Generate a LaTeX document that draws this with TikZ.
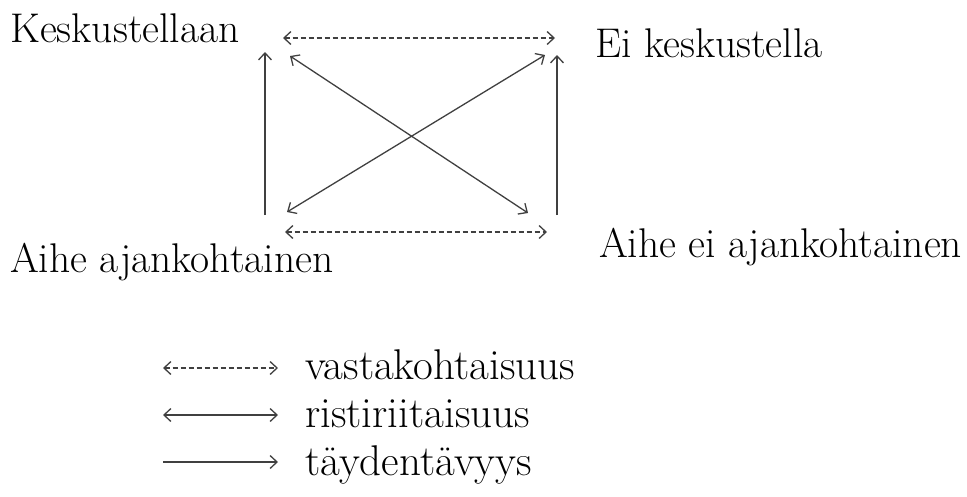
\documentclass[tikz,border=0pt]{standalone}
\usepackage{tikz}
\usetikzlibrary{arrows.meta}

\begin{document}
\begin{tikzpicture}[x=1pt, y=-1pt,
  lbl/.style={anchor=base west, inner sep=0pt, font=\fontsize{41.5}{48}\selectfont},
  leg/.style={lbl, font=\fontsize{43}{50}\selectfont},
  rel/.style={draw=black!75, line width=1.3pt, {Straight Barb[length=7pt,width=13pt]}-{Straight Barb[length=7pt,width=13pt]}},
  vasta/.style={rel, dash pattern=on 5pt off 3pt},
  taydent/.style={draw=black!75, line width=1.3pt, -{Straight Barb[length=7pt,width=13pt]}}]
  \useasboundingbox (0,0) rectangle (967,496);

  % Square of opposition
  \node[lbl] (kesk) at (10,42) {Keskustellaan};
  \node[lbl] (eikesk) at (595,57) {Ei keskustella};
  \node[lbl] (ajank) at (10,272) {Aihe ajankohtainen};
  \node[lbl] (eiajank) at (599,257) {Aihe ei ajankohtainen};

  \coordinate (tdl) at (283,38);
  \coordinate (tdr) at (555,38);
  \coordinate (bdl) at (285,232);
  \coordinate (bdr) at (547,232);
  \coordinate (lv1) at (265,215);
  \coordinate (lv2) at (265,52);
  \coordinate (rv1) at (557,215);
  \coordinate (rv2) at (557,55);
  \coordinate (d1a) at (290,56);
  \coordinate (d1b) at (528,213);
  \coordinate (d2a) at (287,212);
  \coordinate (d2b) at (545,55);

  \draw[vasta] (tdl) -- (tdr);
  \draw[vasta] (bdl) -- (bdr);
  \draw[taydent] (lv1) -- (lv2);
  \draw[taydent] (rv1) -- (rv2);
  \draw[rel] (d1a) -- (d1b);
  \draw[rel] (d2a) -- (d2b);

  % Legend
  \node[leg] (lvasta) at (305,379) {vastakohtaisuus};
  \node[leg] (lristi) at (305,427) {ristiriitaisuus};
  \node[leg] (ltayd) at (305,475) {täydentävyys};

  \coordinate (avasta1) at (163,368);
  \coordinate (avasta2) at (278,368);
  \coordinate (aristi1) at (163,415);
  \coordinate (aristi2) at (278,415);
  \coordinate (atayd1) at (163,462);
  \coordinate (atayd2) at (278,462);

  \draw[vasta] (avasta1) -- (avasta2);
  \draw[rel] (aristi1) -- (aristi2);
  \draw[taydent] (atayd1) -- (atayd2);
\end{tikzpicture}
\end{document}
